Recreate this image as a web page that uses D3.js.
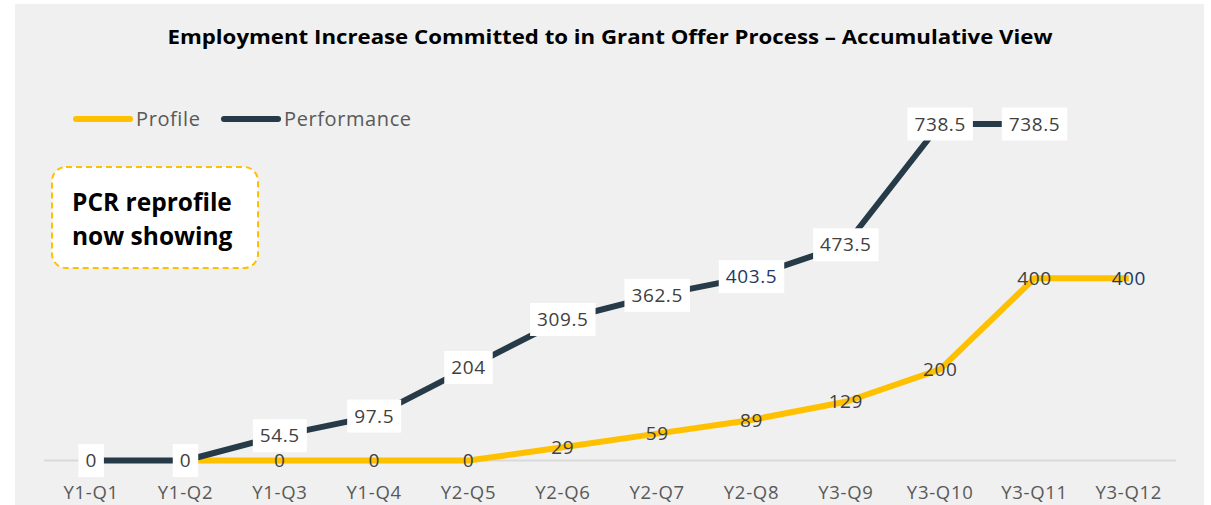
<!DOCTYPE html>
<html><head><meta charset="utf-8">
<script src="https://cdn.jsdelivr.net/npm/d3@7"></script>
<style>body{margin:0;background:#fff}svg{display:block}</style>
</head><body>
<script>
const categories = ["Y1-Q1","Y1-Q2","Y1-Q3","Y1-Q4","Y2-Q5","Y2-Q6","Y2-Q7","Y2-Q8","Y3-Q9","Y3-Q10","Y3-Q11","Y3-Q12"];
const profile = [0,0,0,0,0,29,59,89,129,200,400,400];
const performance = [0,0,54.5,97.5,204,309.5,362.5,403.5,473.5,738.5,738.5,null];
const perfLabelColors = ["#404040","#404040","#404040","#404040","#404040","#404040","#404040","#1f3864","#404040","#404040","#404040"];
const profLabelColors = ["#404040","#404040","#404040","#404040","#404040","#404040","#404040","#404040","#404040","#404040","#404040","#1f3864"];
const title = "Employment Increase Committed to in Grant Offer Process \u2013 Accumulative  View";
const seriesNames = ["Profile","Performance"];
const seriesColors = ["#ffc000","#263a47"];

const W=1211,H=505;
const FONT="Open Sans, sans-serif";
const svg=d3.select("body").append("svg").attr("width",W).attr("height",H);
svg.append("rect").attr("x",15).attr("y",4).attr("width",1189).attr("height",501).attr("fill","#eff0ef");

const x=d3.scaleBand().domain(categories).range([44,1176]);
const y=d3.scaleLinear().domain([0,800]).range([460.5,96]);

svg.append("line").attr("x1",44).attr("x2",1176).attr("y1",y(0)).attr("y2",y(0)).attr("stroke","#d9d9d9").attr("stroke-width",2);

const xAxis=d3.axisBottom(x).tickSize(0);
const gx=svg.append("g").attr("transform",`translate(0,${y(0)+29})`).call(xAxis);
gx.select(".domain").remove();
gx.selectAll("text").attr("font-family",FONT).attr("font-size",18.5).attr("letter-spacing","0.7px")
 .attr("fill","#595959").attr("dy","0.35em");

svg.append("text").attr("x",610).attr("y",44).attr("text-anchor","middle")
 .attr("font-family",FONT).attr("font-weight","bold").attr("font-size",19)
 .attr("textLength",885).attr("lengthAdjust","spacingAndGlyphs").attr("fill","#000").text(title);

const cx=d=>x(d)+x.bandwidth()/2;
const line=d3.line().defined(d=>d[1]!=null).x(d=>cx(d[0])).y(d=>y(d[1]));

// profile line starts at Y1-Q2
svg.append("path").datum(categories.map((c,i)=>[c,i===0?null:profile[i]]))
 .attr("d",line).attr("fill","none").attr("stroke",seriesColors[0]).attr("stroke-width",6).attr("stroke-linejoin","round");
svg.append("path").datum(categories.map((c,i)=>[c,performance[i]]))
 .attr("d",line).attr("fill","none").attr("stroke",seriesColors[1]).attr("stroke-width",6).attr("stroke-linejoin","round");

// profile labels
svg.selectAll(".pl").data(categories).enter().append("text")
 .attr("x",d=>cx(d)).attr("y",(d,i)=>y(profile[i])).attr("dy","0.35em").attr("text-anchor","middle")
 .attr("font-family",FONT).attr("font-size",19).attr("letter-spacing","0.6px").attr("fill",(d,i)=>profLabelColors[i])
 .text((d,i)=>profile[i]);

// performance labels with white boxes
const pg=svg.selectAll(".pf").data(categories.filter((c,i)=>performance[i]!=null)).enter().append("g")
 .attr("transform",(d,i)=>`translate(${cx(d)},${y(performance[i])})`);
pg.append("text").attr("text-anchor","middle").attr("dy","0.35em")
 .attr("font-family",FONT).attr("font-size",19).attr("letter-spacing","0.6px").attr("fill",(d,i)=>perfLabelColors[i])
 .text((d,i)=>performance[i]);
pg.each(function(){
  const g=d3.select(this); const b=g.select("text").node().getBBox();
  g.insert("rect","text").attr("x",b.x-7).attr("y",-16.5).attr("width",b.width+14).attr("height",33).attr("fill","#fff");
});

// legend
const leg=[[76,136],[224,284]];
seriesNames.forEach((s,i)=>{
  svg.append("line").attr("x1",leg[i][0]).attr("x2",leg[i][0]+54).attr("y1",119).attr("y2",119)
   .attr("stroke",seriesColors[i]).attr("stroke-width",6).attr("stroke-linecap","round");
  svg.append("text").attr("x",leg[i][1]).attr("y",119).attr("dy","0.35em")
   .attr("font-family",FONT).attr("font-size",20).attr("letter-spacing","0.6px").attr("fill","#595959").text(s);
});

// annotation
svg.append("rect").attr("x",52).attr("y",167).attr("width",206).attr("height",101).attr("rx",14)
 .attr("fill","#fff").attr("stroke","#ffc000").attr("stroke-width",2).attr("stroke-dasharray","6,4");
svg.append("text").attr("x",72).attr("y",211).attr("font-family",FONT).attr("font-weight","bold")
 .attr("font-size",24.5).attr("fill","#000").text("PCR reprofile");
svg.append("text").attr("x",72).attr("y",245).attr("font-family",FONT).attr("font-weight","bold")
 .attr("font-size",24.5).attr("fill","#000").text("now showing");
</script>
</body></html>
